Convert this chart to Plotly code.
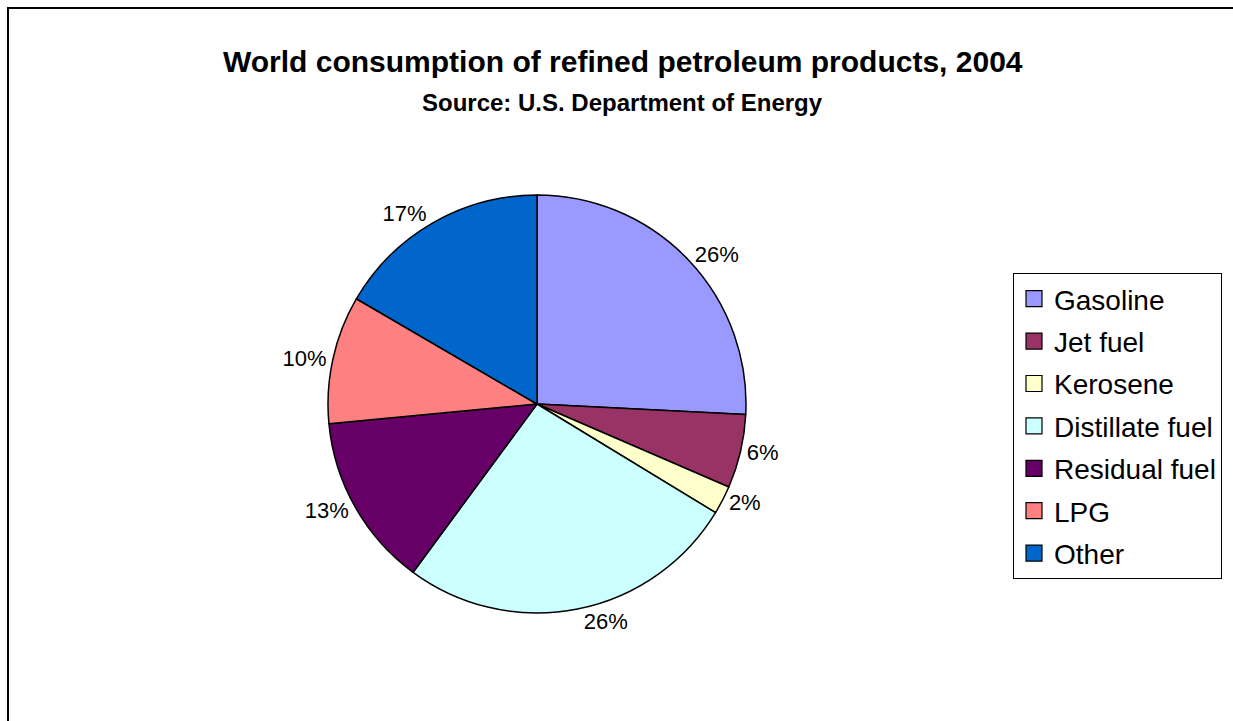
import plotly.graph_objects as go

W, H = 1233, 721

categories = ["Gasoline", "Jet fuel", "Kerosene", "Distillate fuel", "Residual fuel", "LPG", "Other"]
shares = [25.8, 5.7, 2.2, 26.4, 13.4, 9.9, 16.6]
colors = ["#9999FF", "#993366", "#FFFFCC", "#CCFFFF", "#660066", "#FF8080", "#0066CC"]

title_text = "World consumption of refined petroleum products, 2004"
subtitle_text = "Source: U.S. Department of Energy"

FONT = "Liberation Sans, Arial, sans-serif"

cx, cy, r = 537, 404, 209

fig = go.Figure()
fig.add_trace(go.Pie(
    labels=categories,
    values=shares,
    sort=False,
    direction="clockwise",
    rotation=0,
    marker=dict(colors=colors, line=dict(color="black", width=1.5)),
    texttemplate="%{percent:.0%}",
    textposition="outside",
    textfont=dict(family=FONT, size=22, color="black"),
    hoverinfo="label+percent",
    showlegend=False,
    domain=dict(x=[(cx - r) / W, (cx + r) / W], y=[1 - (cy + r) / H, 1 - (cy - r) / H]),
))

# legend entries (one per category, styled like the slices)
for name, col in zip(categories, colors):
    fig.add_trace(go.Scatter(
        x=[None], y=[None], mode="markers", name=name, legendgroup=name,
        marker=dict(symbol="square", size=16, color=col, line=dict(color="black", width=1.2)),
        showlegend=True, hoverinfo="skip",
    ))

fig.update_layout(
    width=W, height=H,
    margin=dict(l=0, r=0, t=0, b=0),
    paper_bgcolor="white",
    plot_bgcolor="white",
    font=dict(family=FONT, color="black"),
    showlegend=True,
    xaxis=dict(visible=False),
    yaxis=dict(visible=False),
    legend=dict(
        x=1013 / W, y=1 - 273 / H, xanchor="left", yanchor="top",
        bordercolor="black", borderwidth=1,
        font=dict(family=FONT, size=28, color="black"),
        bgcolor="white", tracegroupgap=3, itemsizing="trace",
    ),
    shapes=[dict(type="rect", xref="paper", yref="paper",
                 x0=8 / W, x1=1.05, y0=-0.05, y1=1 - 8 / H,
                 line=dict(color="black", width=2), fillcolor="rgba(0,0,0,0)", layer="below")],
    annotations=[
        dict(text="<b>" + title_text + "</b>", x=623 / W, y=1 - 62 / H, xref="paper", yref="paper",
             xanchor="center", yanchor="middle", showarrow=False,
             font=dict(family=FONT, size=30, color="black")),
        dict(text="<b>" + subtitle_text + "</b>", x=622 / W, y=1 - 103 / H, xref="paper", yref="paper",
             xanchor="center", yanchor="middle", showarrow=False,
             font=dict(family=FONT, size=24, color="black")),
    ],
)

fig.write_html("out.html")
